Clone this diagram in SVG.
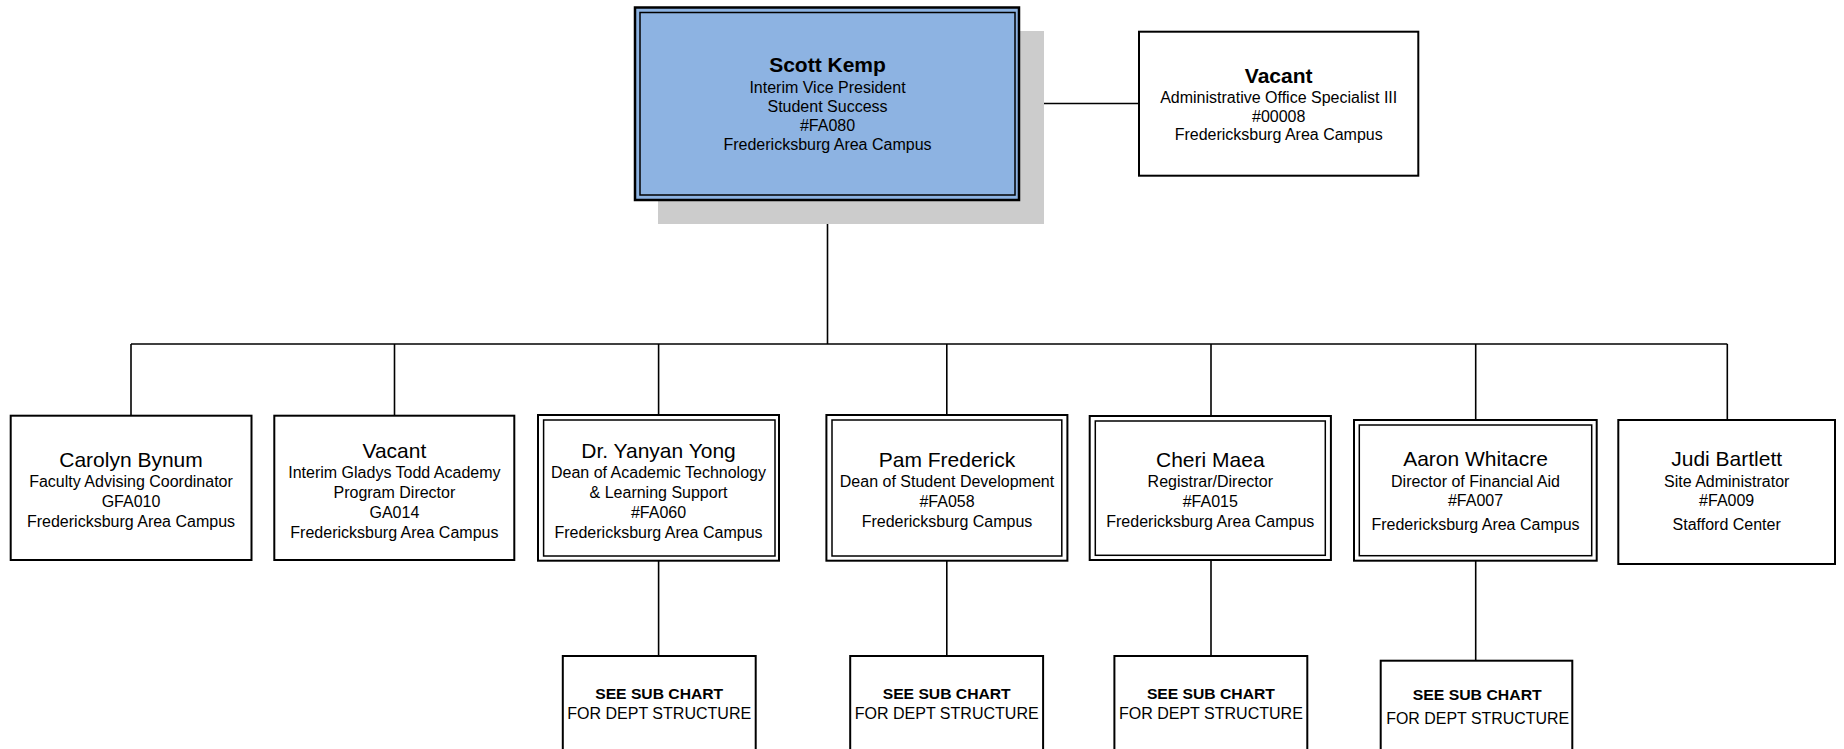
<svg xmlns="http://www.w3.org/2000/svg" width="1844" height="749" viewBox="0 0 1844 749">
<style>
.bg{fill:#ffffff}
.box{fill:#ffffff;stroke:#000;stroke-width:2}
.inner{fill:none;stroke:#000;stroke-width:1.5}
.conn{stroke:#000;stroke-width:1.6;fill:none}
text{font-family:"Liberation Sans",Arial,sans-serif;text-anchor:middle;fill:#000}
.nm{font-size:21px}
.nb{font-size:21px;font-weight:bold}
.t{font-size:16px}
.sb{font-size:15px;font-weight:bold}
</style>
<rect class="bg" x="0" y="0" width="1844" height="749"/>
<g id="connectors">
<line class="conn" x1="1019" y1="103.5" x2="1139" y2="103.5"/>
<line class="conn" x1="827.5" y1="200" x2="827.5" y2="344"/>
<line class="conn" x1="131" y1="344" x2="1727.3" y2="344"/>
<line class="conn" x1="131" y1="344" x2="131" y2="415.5"/>
<line class="conn" x1="394.5" y1="344" x2="394.5" y2="415.5"/>
<line class="conn" x1="658.6" y1="344" x2="658.6" y2="415"/>
<line class="conn" x1="946.8" y1="344" x2="946.8" y2="415"/>
<line class="conn" x1="1211" y1="344" x2="1211" y2="416"/>
<line class="conn" x1="1475.7" y1="344" x2="1475.7" y2="420"/>
<line class="conn" x1="1727.3" y1="344" x2="1727.3" y2="420"/>
<line class="conn" x1="658.6" y1="560.7" x2="658.6" y2="656"/>
<line class="conn" x1="946.8" y1="560.7" x2="946.8" y2="656"/>
<line class="conn" x1="1211" y1="560" x2="1211" y2="656"/>
<line class="conn" x1="1475.7" y1="560.7" x2="1475.7" y2="660.7"/>
</g>
<g id="node-scott-kemp">
<rect x="658" y="31" width="386" height="193" fill="#cccccc"/>
<rect x="635" y="7.5" width="384" height="192.5" fill="#8DB3E2" stroke="#000" stroke-width="2.5"/>
<rect class="inner" x="640" y="12.5" width="375" height="182.5"/>
<text class="nb" x="827.5" y="72">Scott Kemp</text>
<text class="t" x="827.5" y="93">Interim Vice President</text>
<text class="t" x="827.5" y="112.3">Student Success</text>
<text class="t" x="827.5" y="131">#FA080</text>
<text class="t" x="827.5" y="150">Fredericksburg Area Campus</text>
</g>
<g id="node-vacant-admin">
<rect class="box" x="1139" y="31.7" width="279.3" height="144"/>
<text class="nb" x="1278.7" y="82.5">Vacant</text>
<text class="t" x="1278.7" y="103.3">Administrative Office Specialist III</text>
<text class="t" x="1278.7" y="121.7">#00008</text>
<text class="t" x="1278.7" y="140">Fredericksburg Area Campus</text>
</g>
<g id="node-carolyn-bynum">
<rect class="box" x="10.7" y="415.7" width="240.8" height="144.3"/>
<text class="nm" x="131" y="466.5">Carolyn Bynum</text>
<text class="t" x="131" y="486.5">Faculty Advising Coordinator</text>
<text class="t" x="131" y="506.5">GFA010</text>
<text class="t" x="131" y="526.5">Fredericksburg Area Campus</text>
</g>
<g id="node-vacant-academy">
<rect class="box" x="274.3" y="415.7" width="240" height="144.3"/>
<text class="nm" x="394.4" y="458.3">Vacant</text>
<text class="t" x="394.4" y="478.3">Interim Gladys Todd Academy</text>
<text class="t" x="394.4" y="498.3">Program Director</text>
<text class="t" x="394.4" y="518.3">GA014</text>
<text class="t" x="394.4" y="538.3">Fredericksburg Area Campus</text>
</g>
<g id="node-yanyan-yong">
<rect class="box" x="538" y="415" width="241" height="145.7"/>
<rect class="inner" x="543.6" y="420" width="231.4" height="136"/>
<text class="nm" x="658.5" y="458.3">Dr. Yanyan Yong</text>
<text class="t" x="658.5" y="478.3">Dean of Academic Technology</text>
<text class="t" x="658.5" y="498.3">&amp; Learning Support</text>
<text class="t" x="658.5" y="518.3">#FA060</text>
<text class="t" x="658.5" y="538.3">Fredericksburg Area Campus</text>
</g>
<g id="node-pam-frederick">
<rect class="box" x="826.4" y="415" width="241" height="145.7"/>
<rect class="inner" x="832" y="420" width="229.8" height="136"/>
<text class="nm" x="947" y="466.7">Pam Frederick</text>
<text class="t" x="947" y="486.7">Dean of Student Development</text>
<text class="t" x="947" y="506.7">#FA058</text>
<text class="t" x="947" y="526.7">Fredericksburg Campus</text>
</g>
<g id="node-cheri-maea">
<rect class="box" x="1089.7" y="416" width="241.2" height="144"/>
<rect class="inner" x="1095.3" y="421" width="230" height="134.3"/>
<text class="nm" x="1210.3" y="466.7">Cheri Maea</text>
<text class="t" x="1210.3" y="486.7">Registrar/Director</text>
<text class="t" x="1210.3" y="506.7">#FA015</text>
<text class="t" x="1210.3" y="526.7">Fredericksburg Area Campus</text>
</g>
<g id="node-aaron-whitacre">
<rect class="box" x="1354" y="420" width="242.7" height="140.7"/>
<rect class="inner" x="1359.3" y="425" width="232.4" height="130.7"/>
<text class="nm" x="1475.5" y="465.7">Aaron Whitacre</text>
<text class="t" x="1475.5" y="487.3">Director of Financial Aid</text>
<text class="t" x="1475.5" y="506">#FA007</text>
<text class="t" x="1475.5" y="530">Fredericksburg Area Campus</text>
</g>
<g id="node-judi-bartlett">
<rect class="box" x="1618.3" y="420" width="216.7" height="144"/>
<text class="nm" x="1726.7" y="465.7">Judi Bartlett</text>
<text class="t" x="1726.7" y="487.3">Site Administrator</text>
<text class="t" x="1726.7" y="506">#FA009</text>
<text class="t" x="1726.7" y="530">Stafford Center</text>
</g>
<g id="node-sub-yong">
<rect class="box" x="562.8" y="656" width="192.9" height="110"/>
<text class="sb" x="659.2" y="699.3" textLength="128" lengthAdjust="spacingAndGlyphs">SEE SUB CHART</text>
<text class="t" x="659.2" y="719.3" textLength="184" lengthAdjust="spacingAndGlyphs">FOR DEPT STRUCTURE</text>
</g>
<g id="node-sub-frederick">
<rect class="box" x="850.2" y="656" width="192.9" height="110"/>
<text class="sb" x="946.7" y="699.3" textLength="128" lengthAdjust="spacingAndGlyphs">SEE SUB CHART</text>
<text class="t" x="946.7" y="719.3" textLength="184" lengthAdjust="spacingAndGlyphs">FOR DEPT STRUCTURE</text>
</g>
<g id="node-sub-maea">
<rect class="box" x="1114.4" y="656" width="192.9" height="110"/>
<text class="sb" x="1210.9" y="699.3" textLength="128" lengthAdjust="spacingAndGlyphs">SEE SUB CHART</text>
<text class="t" x="1210.9" y="719.3" textLength="184" lengthAdjust="spacingAndGlyphs">FOR DEPT STRUCTURE</text>
</g>
<g id="node-sub-whitacre">
<rect class="box" x="1380.7" y="660.7" width="191.6" height="110"/>
<text class="sb" x="1477.2" y="700" textLength="129" lengthAdjust="spacingAndGlyphs">SEE SUB CHART</text>
<text class="t" x="1477.7" y="724.3" textLength="183" lengthAdjust="spacingAndGlyphs">FOR DEPT STRUCTURE</text>
</g>
</svg>
